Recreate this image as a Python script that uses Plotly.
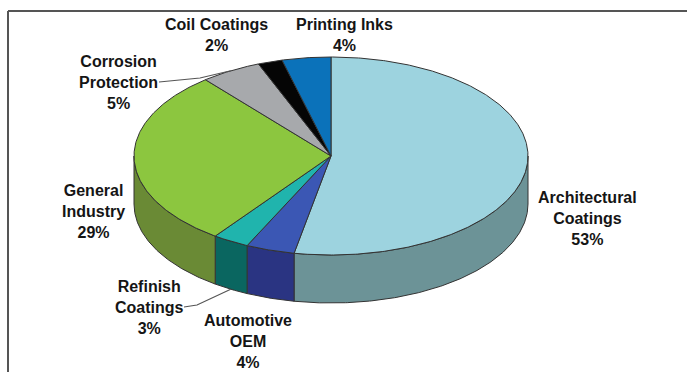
import numpy as np
import plotly.graph_objects as go

# Coatings market by end use (share of total, %)
segments = ["Architectural Coatings", "Automotive OEM", "Refinish Coatings",
            "General Industry", "Corrosion Protection", "Coil Coatings", "Printing Inks"]
shares = [53, 4, 3, 29, 5, 2, 4]
label_lines = [["Architectural", "Coatings"], ["Automotive", "OEM"], ["Refinish", "Coatings"],
               ["General", "Industry"], ["Corrosion", "Protection"], ["Coil Coatings"], ["Printing Inks"]]

# Styling
top_colors = ["#9dd3df", "#3b57b4", "#20b4ad", "#8cc63f", "#a7a9ac", "#050505", "#0b72ba"]
side_colors = ["#6c9397", "#2a3482", "#0a6660", "#6a8a35", "#76787a", "#000000", "#07508a"]
edge_color = "#333333"
label_pos = [(587, 218), (248, 341), (149, 307), (93, 211), (118, 82), (216, 34.5), (344, 34.5)]

W, H = 687, 372
CX, CY, RX, RY, DEPTH = 331, 156, 197, 99, 48


def pt(theta_deg, drop=0.0):
    t = np.radians(theta_deg)
    return CX + RX * np.cos(t), CY - RY * np.sin(t) + drop


def arc(a_from, a_to, drop=0.0):
    n = max(2, int(abs(a_from - a_to) * 2) + 1)
    th = np.linspace(a_from, a_to, n)
    return pt(th, drop)


total = float(sum(shares))
bounds = 90 - 360 * np.cumsum([0] + shares) / total  # clockwise from 12 o'clock

fig = go.Figure()

# side walls (front half of the ellipse only)
for i in range(len(shares)):
    a_start, a_end = bounds[i], bounds[i + 1]
    for k in (-1, 0, 1):
        lo = max(a_end, -180 + 360 * k)
        hi = min(a_start, 0 + 360 * k)
        if lo < hi:
            tx, ty = arc(hi, lo)
            bx, by = arc(lo, hi, DEPTH)
            xs = np.concatenate([tx, bx, tx[:1]])
            ys = np.concatenate([ty, by, ty[:1]])
            fig.add_trace(go.Scatter(x=xs, y=ys, mode="lines", fill="toself",
                                     fillcolor=side_colors[i],
                                     line=dict(color=edge_color, width=1),
                                     hoverinfo="skip", showlegend=False))

# top faces
for i in range(len(shares)):
    a_start, a_end = bounds[i], bounds[i + 1]
    ax, ay = arc(a_start, a_end)
    xs = np.concatenate([[CX], ax, [CX]])
    ys = np.concatenate([[CY], ay, [CY]])
    fig.add_trace(go.Scatter(x=xs, y=ys, mode="lines", fill="toself",
                             fillcolor=top_colors[i],
                             line=dict(color=edge_color, width=1),
                             name=segments[i], hoverinfo="name", showlegend=False))

# leader lines for the two small labels
mid = (bounds[:-1] + bounds[1:]) / 2
i_corr = segments.index("Corrosion Protection")
i_ref = segments.index("Refinish Coatings")
cx_end, cy_end = pt(mid[i_corr])
rx_end, ry_end = pt(mid[i_ref], DEPTH)
fig.add_trace(go.Scatter(x=[159, 200, cx_end], y=[82, 78, cy_end], mode="lines",
                         line=dict(color="#555555", width=1.2), hoverinfo="skip", showlegend=False))
fig.add_trace(go.Scatter(x=[184, 197, rx_end], y=[307, 305, ry_end], mode="lines",
                         line=dict(color="#555555", width=1.2), hoverinfo="skip", showlegend=False))

# labels
for i, lines in enumerate(label_lines):
    text = "<br>".join(lines + [f"{shares[i]}%"])
    x, y = label_pos[i]
    fig.add_annotation(x=x, y=y, text=text, showarrow=False, xanchor="center", yanchor="middle",
                       align="center",
                       font=dict(family="Arial, Liberation Sans, sans-serif", size=16,
                                 color="#151515", weight="bold"))

# frame
fig.add_shape(type="line", x0=8, y0=11, x1=W, y1=11, line=dict(color="#555555", width=2))
fig.add_shape(type="line", x0=8, y0=11, x1=8, y1=H, line=dict(color="#555555", width=2))

fig.update_layout(
    width=W, height=H, autosize=False,
    margin=dict(l=0, r=0, t=0, b=0),
    paper_bgcolor="white", plot_bgcolor="white",
    xaxis=dict(range=[0, W], visible=False, fixedrange=True),
    yaxis=dict(range=[H, 0], visible=False, fixedrange=True),
)

fig.write_html("out.html")
